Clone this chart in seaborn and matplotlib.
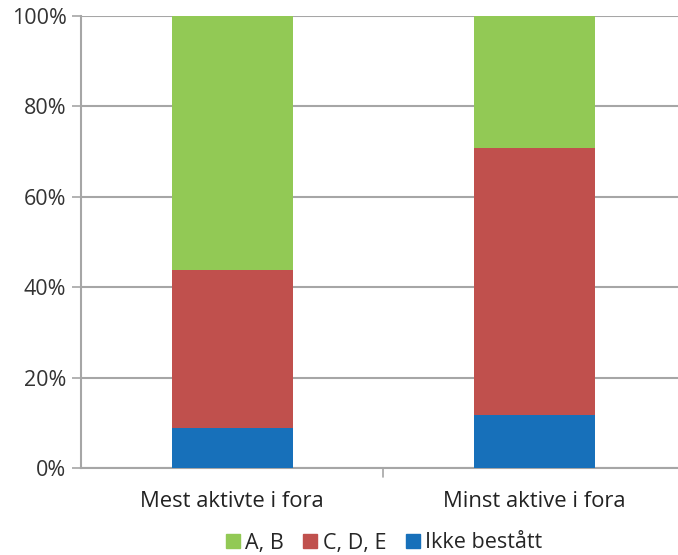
import matplotlib
matplotlib.use("Agg")
import matplotlib.pyplot as plt
import matplotlib.patches as mpatches
import numpy as np
import pandas as pd
import seaborn as sns

# Data (percent of students)
groups = ["Mest aktivte i fora", "Minst aktive i fora"]
ikke_bestatt = [9.0, 11.8]
c_d_e = [34.8, 58.95]
a_b = [56.2, 29.25]
series_names = ["A, B", "C, D, E", "Ikke bestått"]
colors = {"A, B": "#92C955", "C, D, E": "#C0504D", "Ikke bestått": "#1770BA"}

df = pd.DataFrame({
    "group": groups,
    "Ikke bestått": ikke_bestatt,
    "C, D, E": c_d_e,
    "A, B": a_b,
})
# cumulative heights for stacking by overlap
df["top_blue"] = df["Ikke bestått"]
df["top_red"] = df["top_blue"] + df["C, D, E"]
df["top_green"] = df["top_red"] + df["A, B"]

sns.set_style("white")
plt.rcParams["font.family"] = ["Open Sans", "DejaVu Sans"]

fig = plt.figure(figsize=(6.78, 5.55), dpi=100)
ax = fig.add_axes([0.1195, 0.1562, 0.8805, 0.815])

width = 0.4
for col, name in [("top_green", "A, B"), ("top_red", "C, D, E"), ("top_blue", "Ikke bestått")]:
    sns.barplot(data=df, x="group", y=col, color=colors[name], width=width,
                saturation=1, linewidth=0, ax=ax, zorder=3)

ax.set_xlim(-0.5, 1.475)
ax.set_ylim(0, 100)
ax.set_yticks(np.arange(0, 101, 20))
ax.set_yticklabels([f"{v}%" for v in range(0, 101, 20)], fontsize=15.5, color="#333333")
ax.yaxis.grid(True, color="#A6A6A6", linewidth=1.5, zorder=0)
ax.set_axisbelow(True)

ax.set_xlabel("")
ax.set_ylabel("")
ax.set_xticks([0, 1])
ax.set_xticklabels(groups, fontsize=15.8, color="#222222")
ax.tick_params(axis="x", length=0, pad=16)
ax.tick_params(axis="y", length=6.5, width=1.2, color="#A6A6A6", direction="out", left=True, pad=4)

# separator tick between categories
ax.plot([0.5, 0.5], [0, -2.0], color="#A6A6A6", lw=1.2, clip_on=False)

for side in ["top", "right"]:
    ax.spines[side].set_visible(False)
for side in ["left", "bottom"]:
    ax.spines[side].set_color("#A6A6A6")
    ax.spines[side].set_linewidth(1.5)

handles = [mpatches.Patch(color=colors[n], label=n) for n in series_names]
fig.legend(handles=handles, loc="center", bbox_to_anchor=(384 / 678, 1 - 543 / 555), ncol=3,
           frameon=False, fontsize=15.5, handlelength=0.65, handleheight=0.65,
           handletextpad=0.25, columnspacing=0.9, borderpad=0)

fig.savefig("out.png", dpi=100)
